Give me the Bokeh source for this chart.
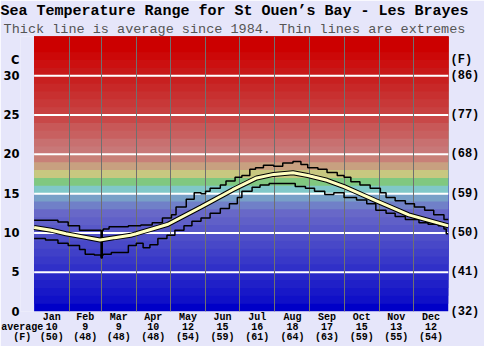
from bokeh.plotting import figure
from bokeh.models import Range1d, LinearAxis, FixedTicker, Title
from bokeh.embed import file_html
from bokeh.resources import INLINE

# ---------------- data ----------------
month_names = ["Jan", "Feb", "Mar", "Apr", "May", "Jun",
               "Jul", "Aug", "Sep", "Oct", "Nov", "Dec"]
month_days = [31, 28, 31, 30, 31, 30, 31, 31, 30, 31, 30, 31]
month_avg_c = [10, 9, 9, 10, 12, 15, 16, 18, 17, 15, 13, 12]
month_avg_f = [50, 48, 48, 48, 54, 59, 61, 64, 63, 59, 55, 54]

c_ticks = [0, 5, 10, 15, 20, 25, 30]
f_labels = ["(32)", "(41)", "(50)", "(59)", "(68)", "(77)", "(86)"]

# average (thick line): day of year, deg C
avg_days = [0, 15, 28, 43, 58, 71, 85, 90, 118, 147, 175, 196, 211, 228,
            241, 258, 273, 301, 330, 365]
avg_vals = [10.7, 10.35, 9.9, 9.5, 9.1, 9.4, 9.7, 9.9, 11.1, 13.3, 15.5,
            17.0, 17.45, 17.65, 17.3, 16.7, 15.9, 14.1, 12.3, 10.9]

# maximum extreme (thin step line)
max_days = [0, 21, 30, 40, 59, 60, 61, 66, 83, 94, 104, 113, 121, 125, 134,
            141, 147, 151, 155, 164, 169, 177, 183, 190, 195, 202, 211, 219,
            228, 235, 241, 250, 258, 267, 273, 279, 287, 296, 305, 310, 318,
            327, 335, 344, 352, 361, 365]
max_vals = [11.6, 11.4, 10.9, 10.35, 7.0, 10.35, 10.5, 10.8, 10.9, 11.0, 11.3,
            11.9, 12.3, 13.3, 14.3, 15.1, 15.0, 15.3, 15.7, 16.1, 16.6, 17.1,
            17.3, 18.1, 18.3, 18.6, 18.5, 18.9, 19.1, 18.7, 18.3, 18.1, 17.7,
            17.3, 17.1, 16.5, 16.1, 15.7, 15.1, 14.5, 14.1, 13.7, 13.3, 12.9,
            12.3, 11.7, 11.7]

# minimum extreme (thin step line)
min_days = [0, 10, 21, 30, 40, 45, 53, 59, 60, 61, 68, 83, 90, 96, 102, 109,
            117, 124, 132, 139, 147, 155, 164, 172, 179, 183, 192, 199, 207,
            230, 239, 247, 256, 264, 273, 284, 293, 301, 310, 318, 327, 339,
            347, 356, 361, 363, 365]
min_vals = [9.3, 9.1, 8.7, 8.4, 7.9, 7.3, 7.2, 6.8, 7.2, 7.3, 7.5, 8.4, 8.7,
            8.1, 8.5, 9.3, 9.7, 10.35, 10.9, 11.5, 11.9, 12.5, 13.1, 13.7,
            14.5, 15.3, 15.8, 16.1, 16.3, 15.9, 15.7, 15.3, 14.9, 15.1, 14.5,
            14.2, 13.7, 12.9, 12.5, 12.1, 11.7, 11.3, 11.1, 10.9, 10.5, 9.9,
            9.9]

# colour bands, one per degree from 0 up to 35
band_colors = [
    "#0000c8", "#1010c8", "#1818c8", "#2020c8", "#2828c8", "#3030c8",
    "#3838c8", "#4040c8", "#4848c8", "#5050c8", "#5858c8", "#6060c8",
    "#6868c8", "#7080c8", "#78a0c8", "#80c8c8", "#80c880", "#c8c880",
    "#c8a080", "#c88078", "#c87878", "#c87070", "#c86060", "#c85858",
    "#c84848", "#c84040", "#c83838", "#c83030", "#c82828", "#c82020",
    "#c81818", "#cc1010", "#cc0808", "#cc0000", "#cc0000",
]

BG = "#E6E6FA"
YEAR = 365
TOP = 35

# ---------------- figure ----------------
p = figure(width=484, height=346, x_range=Range1d(-12, YEAR), y_range=Range1d(0, TOP),
           output_backend="svg", toolbar_location=None,
           min_border_left=20, min_border_right=36, min_border_top=0,
           min_border_bottom=0, border_fill_color=BG, background_fill_color=BG,
           outline_line_color=None)

# bands: each drawn from its lower edge to the top, later ones cover earlier
band_lo = list(range(len(band_colors)))
p.quad(left=0, right=YEAR, bottom=band_lo, top=[TOP] * len(band_lo),
       fill_color=band_colors, line_color=None, level="image")

# month boundaries
starts = [0]
for d in month_days:
    starts.append(starts[-1] + d)
mids = [starts[i] + month_days[i] / 2 for i in range(12)]

p.xgrid.ticker = FixedTicker(ticks=starts[1:-1])
p.xgrid.grid_line_color = "#707070"
p.xgrid.grid_line_width = 1
p.ygrid.visible = False
# white temperature lines, only across the coloured area
p.segment(x0=0, x1=YEAR, y0=c_ticks[1:], y1=c_ticks[1:], line_color="white",
          line_width=2, level="underlay")

# curves
p.step(min_days, min_vals, mode="after", line_color="black", line_width=1.5)
p.step(max_days, max_vals, mode="after", line_color="black", line_width=1.5)
p.line(avg_days, avg_vals, line_color="black", line_width=5)
p.line(avg_days, avg_vals, line_color="#FFFFC0", line_width=3)

# bottom axis
AVG_TICK = -10.5
xa = p.xaxis[0]
xa.ticker = FixedTicker(ticks=[AVG_TICK] + mids)
labels = {m: f"{n}\n{c}\n({f})" for m, n, c, f in
          zip(mids, month_names, month_avg_c, month_avg_f)}
labels[AVG_TICK] = " \naverage\n(F)"
xa.major_label_overrides = labels
xa.major_label_text_font = "Liberation Mono"
xa.major_label_text_font_style = "bold"
xa.major_label_text_font_size = "10px"
xa.major_label_text_line_height = 0.95
xa.major_label_text_color = "black"
xa.major_label_standoff = 0
xa.major_tick_out = 0
xa.major_tick_in = 0
xa.axis_line_color = None
xa.major_tick_line_color = None
xa.minor_tick_line_color = None

# left axis
ya = p.yaxis[0]
ya.ticker = FixedTicker(ticks=c_ticks + [32])
ya.major_label_overrides = {32: "C"}
ya.major_label_text_font = "DejaVu Sans"
ya.major_label_text_font_style = "bold"
ya.major_label_text_font_size = "11.5px"
ya.major_label_text_color = "black"
ya.major_label_standoff = 1
ya.major_tick_out = 0
ya.major_tick_in = 0
ya.axis_line_color = None
ya.major_tick_line_color = None
ya.minor_tick_line_color = None

# right axis
ra = LinearAxis(ticker=FixedTicker(ticks=c_ticks + [32]))
ra.major_label_overrides = dict(zip(c_ticks, f_labels))
ra.major_label_overrides[32] = "(F)"
ra.major_label_text_font = "Liberation Mono"
ra.major_label_text_font_style = "bold"
ra.major_label_text_font_size = "12px"
ra.major_label_text_color = "black"
ra.major_label_standoff = 2
ra.major_tick_out = 0
ra.major_tick_in = 0
ra.axis_line_color = None
ra.major_tick_line_color = None
ra.minor_tick_line_color = None
p.add_layout(ra, "right")

# titles
p.add_layout(Title(text="Thick line is average since 1984. Thin lines are extremes",
                   align="center", text_font="Liberation Mono",
                   text_font_style="normal", text_font_size="13.5px",
                   text_line_height=1.0, text_color="#555555", standoff=0), "above")
p.add_layout(Title(text="Sea Temperature Range for St Ouen’s Bay - Les Brayes",
                   align="center", text_font="Liberation Mono",
                   text_font_style="bold", text_font_size="15px",
                   text_line_height=0.9, text_color="black", standoff=0), "above")

open("out.html", "w").write(file_html(p, INLINE))
